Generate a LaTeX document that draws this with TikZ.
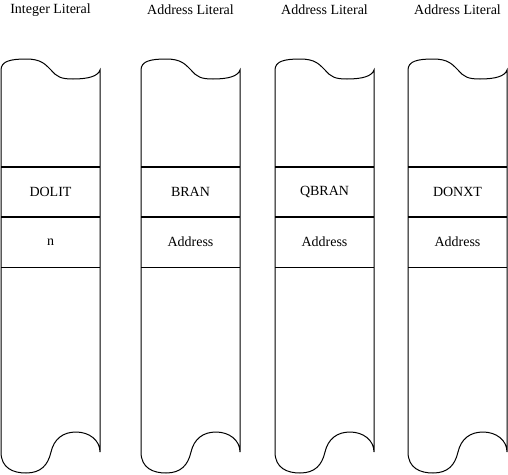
\documentclass[tikz,border=0pt]{standalone}
\usepackage{fontspec}
\setmainfont{Liberation Serif}

\begin{document}
\begin{tikzpicture}[x=1pt, y=-1pt, line width=1pt,
	lbl/.style={
		inner sep=0pt,
		font=\fontsize{14pt}{16pt}\selectfont
	},
	sep/.style={line width=2pt}
	]
	
	\useasboundingbox (0,0) rectangle (508,474);
	
	\begin{scope}[shift={(1,0)}] 
		%Band
		\draw (0,452) -- (0,70)
		.. controls (0,61) and (10,59) .. (25,59)
		.. controls (40,59) and (44,64) .. (50,70)
		.. controls (56,77) and (60,79) .. (72,79)
		.. controls (88,79) and (97,76) .. (99,70)
		-- (99,452)
		.. controls (99,440) and (88,432) .. (75,432)
		.. controls (62,432) and (53,439) .. (50,452)
		.. controls (47,465) and (40,473) .. (25,473)
		.. controls (12,473) and (0,468) .. (0,452);
		\draw[sep] (0,167) -- (99,167);
		\draw[sep] (0,217) -- (99,217);
		\draw (0,267) -- (99,267);
		
		\node[lbl] (kopf1) at (49.5,10) {Integer Literal};
		\node[lbl] (wort1) at (49.5,192) {DOLIT};
		\node[lbl] (arg1)  at (49.5,242) {n};
	\end{scope}
	
	\begin{scope}[shift={(141,0)}] 
		%Band
		\draw (0,452) -- (0,70)
		.. controls (0,61) and (10,59) .. (25,59)
		.. controls (40,59) and (44,64) .. (50,70)
		.. controls (56,77) and (60,79) .. (72,79)
		.. controls (88,79) and (97,76) .. (99,70)
		-- (99,452)
		.. controls (99,440) and (88,432) .. (75,432)
		.. controls (62,432) and (53,439) .. (50,452)
		.. controls (47,465) and (40,473) .. (25,473)
		.. controls (12,473) and (0,468) .. (0,452);
		\draw[sep] (0,167) -- (99,167);
		\draw[sep] (0,217) -- (99,217);
		\draw (0,267) -- (99,267);
		
		\node[lbl] (kopf2) at (49.5,10) {Address Literal};
		\node[lbl] (wort2) at (49.5,192) {BRAN};
		\node[lbl] (arg2)  at (49.5,242) {Address};
	\end{scope}
	
	\begin{scope}[shift={(275,0)}] 
		%Band
		\draw (0,452) -- (0,70)
		.. controls (0,61) and (10,59) .. (25,59)
		.. controls (40,59) and (44,64) .. (50,70)
		.. controls (56,77) and (60,79) .. (72,79)
		.. controls (88,79) and (97,76) .. (99,70)
		-- (99,452)
		.. controls (99,440) and (88,432) .. (75,432)
		.. controls (62,432) and (53,439) .. (50,452)
		.. controls (47,465) and (40,473) .. (25,473)
		.. controls (12,473) and (0,468) .. (0,452);
		\draw[sep] (0,167) -- (99,167);
		\draw[sep] (0,217) -- (99,217);
		\draw (0,267) -- (99,267);
		
		\node[lbl] (kopf3) at (49.5,10) {Address Literal};
		\node[lbl] (wort3) at (49.5,192) {QBRAN};
		\node[lbl] (arg3)  at (49.5,242) {Address};
	\end{scope}
	
	\begin{scope}[shift={(408,0)}] 
		%Band
		\draw (0,452) -- (0,70)
		.. controls (0,61) and (10,59) .. (25,59)
		.. controls (40,59) and (44,64) .. (50,70)
		.. controls (56,77) and (60,79) .. (72,79)
		.. controls (88,79) and (97,76) .. (99,70)
		-- (99,452)
		.. controls (99,440) and (88,432) .. (75,432)
		.. controls (62,432) and (53,439) .. (50,452)
		.. controls (47,465) and (40,473) .. (25,473)
		.. controls (12,473) and (0,468) .. (0,452);
		\draw[sep] (0,167) -- (99,167);
		\draw[sep] (0,217) -- (99,217);
		\draw (0,267) -- (99,267);
		
		\node[lbl] (kopf4) at (49.5,10) {Address Literal};
		\node[lbl] (wort4) at (49.5,192) {DONXT};
		\node[lbl] (arg4)  at (49.5,242) {Address};
	\end{scope}
	
\end{tikzpicture}
\end{document}
